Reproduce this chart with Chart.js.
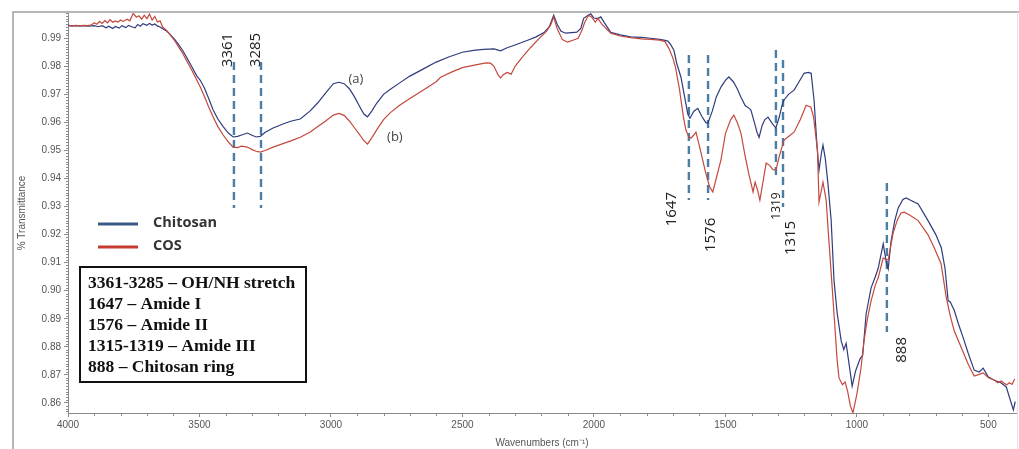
<!DOCTYPE html>
<html>
<head>
<meta charset="utf-8">
<script src="https://cdn.jsdelivr.net/npm/chart.js@4.4.1/dist/chart.umd.min.js"></script>
<style>
  html, body { margin: 0; padding: 0; background: #fff; }
  #wrap { position: relative; width: 1019px; height: 449px; }
</style>
</head>
<body>
<div id="wrap"><canvas id="c" width="1019" height="449"></canvas></div>
<script>
// ---------- DATA ----------
const chitosanWn = [4000,3980,3960,3940,3920,3900,3885,3870,3855,3845,3830,3820,3805,3795,3780,3770,3755,3745,3735,3725,3715,3700,3690,3680,3670,3660,3650,3640,3625,3610,3595,3580,3565,3550,3530,3510,3497,3480,3465,3448,3430,3410,3390,3372,3355,3340,3318,3300,3285,3269,3250,3220,3180,3150,3117,3080,3050,3020,2991,2970,2950,2930,2910,2890,2875,2861,2845,2825,2800,2774,2740,2700,2650,2600,2550,2500,2458,2420,2380,2355,2330,2300,2252,2220,2190,2170,2153,2140,2125,2107,2085,2065,2050,2039,2025,2012,2000,1985,1974,1960,1936,1900,1860,1820,1784,1750,1734,1719,1708,1696,1685,1669,1655,1643,1635,1620,1605,1590,1575,1567,1550,1535,1517,1500,1487,1470,1455,1441,1425,1410,1403,1390,1380,1372,1360,1350,1338,1325,1308,1295,1285,1277,1260,1239,1220,1201,1185,1174,1163,1152,1144,1135,1129,1120,1110,1098,1087,1075,1060,1050,1041,1030,1018,1005,988,978,965,946,930,919,900,888,881,870,856,843,825,813,790,767,729,700,679,665,653,645,630,615,595,577,554,535,520,500,475,451,432,420,405,398];
const chitosanT = [0.9946,0.9944,0.9945,0.9944,0.9943,0.9945,0.9941,0.9945,0.9937,0.9943,0.9935,0.9942,0.9936,0.9945,0.9938,0.9946,0.9940,0.9937,0.9949,0.9943,0.9952,0.9946,0.9953,0.9947,0.9951,0.9944,0.9940,0.9934,0.9926,0.9912,0.9897,0.9878,0.9858,0.9834,0.9800,0.9765,0.9750,0.9720,0.9685,0.9644,0.9612,0.9585,0.9562,0.9548,0.9550,0.9555,0.9562,0.9554,0.9548,0.9550,0.9565,0.9580,0.9595,0.9605,0.9612,0.9640,0.9670,0.9705,0.9738,0.9743,0.9738,0.9720,0.9690,0.9655,0.9630,0.9620,0.9640,0.9670,0.9700,0.9718,0.9740,0.9765,0.9790,0.9815,0.9834,0.9850,0.9857,0.9860,0.9862,0.9855,0.9866,0.9876,0.9893,0.9905,0.9920,0.9940,0.9982,0.9950,0.9925,0.9918,0.9920,0.9922,0.9935,0.9971,0.9980,0.9987,0.9972,0.9970,0.9976,0.9955,0.9921,0.9912,0.9905,0.9903,0.9900,0.9896,0.9893,0.9890,0.9877,0.9857,0.9810,0.9761,0.9690,0.9630,0.9615,0.9640,0.9650,0.9622,0.9600,0.9597,0.9640,0.9690,0.9726,0.9750,0.9762,0.9745,0.9720,0.9690,0.9660,0.9650,0.9644,0.9600,0.9565,0.9547,0.9590,0.9610,0.9619,0.9600,0.9580,0.9620,0.9660,0.9680,0.9700,0.9715,0.9745,0.9775,0.9778,0.9775,0.9680,0.9520,0.9430,0.9490,0.9519,0.9470,0.9380,0.9252,0.9036,0.8920,0.8822,0.8790,0.8812,0.8740,0.8660,0.8714,0.8757,0.8770,0.8917,0.9010,0.9050,0.9080,0.9167,0.9100,0.9078,0.9177,0.9250,0.9295,0.9325,0.9331,0.9320,0.9309,0.9249,0.9200,0.9153,0.9080,0.8964,0.8960,0.8930,0.8885,0.8830,0.8778,0.8717,0.8710,0.8724,0.8692,0.8680,0.8671,0.8657,0.8620,0.8575,0.8605];

const cosWn = [4000,3985,3970,3955,3940,3925,3910,3900,3890,3880,3870,3860,3850,3840,3830,3820,3810,3800,3790,3775,3765,3752,3740,3730,3720,3710,3700,3690,3680,3670,3660,3650,3640,3625,3610,3595,3580,3565,3550,3530,3510,3497,3480,3465,3448,3430,3410,3390,3372,3355,3340,3318,3300,3285,3269,3250,3220,3180,3150,3117,3080,3050,3020,2991,2970,2950,2930,2910,2890,2875,2861,2845,2825,2800,2774,2740,2700,2650,2600,2583,2540,2500,2450,2410,2393,2380,2365,2355,2345,2330,2315,2300,2270,2240,2203,2180,2165,2153,2140,2120,2100,2080,2060,2045,2035,2020,2008,1995,1985,1970,1936,1900,1860,1820,1784,1750,1730,1715,1700,1690,1675,1660,1650,1640,1631,1620,1612,1600,1585,1575,1560,1548,1535,1517,1500,1480,1468,1455,1441,1425,1412,1403,1395,1387,1378,1369,1355,1345,1330,1320,1308,1295,1277,1260,1239,1215,1193,1175,1165,1150,1144,1129,1117,1108,1087,1075,1068,1055,1045,1035,1025,1015,1000,985,973,960,946,930,919,900,888,881,862,845,832,820,800,767,730,706,680,660,645,630,600,577,554,540,520,500,490,475,465,451,440,430,420,410,400];
const cosT = [0.9945,0.9943,0.9946,0.9944,0.9946,0.9945,0.9948,0.9955,0.9950,0.9960,0.9953,0.9963,0.9955,0.9966,0.9957,0.9962,0.9958,0.9965,0.9960,0.9968,0.9962,0.9989,0.9975,0.9980,0.9968,0.9982,0.9970,0.9986,0.9965,0.9978,0.9958,0.9962,0.9940,0.9928,0.9910,0.9892,0.9870,0.9848,0.9822,0.9788,0.9750,0.9726,0.9690,0.9655,0.9619,0.9585,0.9555,0.9530,0.9512,0.9510,0.9515,0.9512,0.9503,0.9497,0.9494,0.9500,0.9512,0.9525,0.9535,0.9547,0.9565,0.9585,0.9605,0.9626,0.9632,0.9625,0.9605,0.9580,0.9555,0.9535,0.9523,0.9545,0.9575,0.9610,0.9635,0.9660,0.9685,0.9715,0.9745,0.9761,0.9780,0.9795,0.9805,0.9812,0.9811,0.9800,0.9770,0.9758,0.9770,0.9778,0.9772,0.9800,0.9835,0.9868,0.9904,0.9925,0.9946,0.9976,0.9935,0.9895,0.9886,0.9893,0.9900,0.9930,0.9957,0.9982,0.9975,0.9957,0.9971,0.9950,0.9918,0.9908,0.9902,0.9898,0.9896,0.9893,0.9888,0.9864,0.9830,0.9797,0.9720,0.9620,0.9572,0.9550,0.9544,0.9555,0.9565,0.9520,0.9460,0.9420,0.9370,0.9352,0.9400,0.9466,0.9560,0.9610,0.9626,0.9600,0.9562,0.9480,0.9420,0.9384,0.9352,0.9387,0.9360,0.9323,0.9400,0.9455,0.9445,0.9432,0.9430,0.9480,0.9537,0.9550,0.9565,0.9610,0.9661,0.9654,0.9620,0.9501,0.9316,0.9387,0.9323,0.9200,0.8917,0.8750,0.8689,0.8665,0.8675,0.8640,0.8590,0.8564,0.8632,0.8720,0.8821,0.8900,0.8964,0.9020,0.9046,0.9117,0.9110,0.9110,0.9207,0.9255,0.9277,0.9280,0.9270,0.9250,0.9200,0.9153,0.9096,0.8975,0.8910,0.8857,0.8790,0.8739,0.8696,0.8700,0.8707,0.8690,0.8686,0.8680,0.8672,0.8678,0.8670,0.8665,0.8672,0.8666,0.8685];

const xTickValues = [4000,3500,3000,2500,2000,1500,1000,500];
const yTickValues = [0.86,0.87,0.88,0.89,0.90,0.91,0.92,0.93,0.94,0.95,0.96,0.97,0.98,0.99];

// dashed band markers (wavenumber, top %T, bottom %T) and their labels
const markerWn     = [3369, 3266, 1639, 1566, 1308, 1281, 886];
const markerTop    = [0.9815, 0.9815, 0.9840, 0.9840, 0.9858, 0.9822, 0.9384];
const markerBottom = [0.9295, 0.9295, 0.9323, 0.9323, 0.9405, 0.9298, 0.8853];
const markerLabels = ['3361', '3285', '1647', '1576', '1319', '1315', '888'];
const markerLabelWn = [3392, 3285, 1703, 1555, 1304, 1251, 829];
const markerLabelT  = [0.9858, 0.9858, 0.9291, 0.9199, 0.9302, 0.9188, 0.8789];

const curveTags = ['(a)', '(b)'];
const curveTagWn = [2905, 2757];
const curveTagT  = [0.9755, 0.9548];

const seriesNames = ['Chitosan', 'COS'];
const assignmentLines = [
  '3361-3285 \u2013 OH/NH stretch',
  '1647 \u2013 Amide I',
  '1576 \u2013 Amide II',
  '1315-1319 \u2013 Amide III',
  '888 \u2013 Chitosan ring'
];

// ---------- STYLE ----------
const BLUE = '#2f3c7e';
const RED = '#c4483c';
const LEG_BLUE = '#3a5a86';
const LEG_RED = '#c63a30';
const DASH = '#4a7ea6';
const AXIS = '#8a8a8a';
const TICKTXT = '#555';

const toPts = (xs, ys) => xs.map((x, i) => ({ x: x, y: ys[i] }));

const datasets = [
  { label: seriesNames[1], data: toPts(cosWn, cosT), borderColor: RED, borderWidth: 1.2, pointRadius: 0, tension: 0, fill: false },
  { label: seriesNames[0], data: toPts(chitosanWn, chitosanT), borderColor: BLUE, borderWidth: 1.2, pointRadius: 0, tension: 0, fill: false }
];
markerWn.forEach((w, i) => {
  datasets.push({
    label: 'm' + i,
    data: [{ x: w, y: markerTop[i] }, { x: w, y: markerBottom[i] }],
    borderColor: DASH, borderWidth: 2.4, borderDash: [8, 5],
    pointRadius: 0, fill: false, tension: 0
  });
});

const decorPlugin = {
  id: 'decor',
  beforeDraw(chart) {
    const ctx = chart.ctx;
    ctx.save();
    ctx.fillStyle = '#fff';
    ctx.fillRect(0, 0, chart.width, chart.height);
    ctx.strokeStyle = '#a0a0a0';
    ctx.lineWidth = 1.5;
    ctx.beginPath();
    ctx.moveTo(13, 449); ctx.lineTo(13, 12); ctx.lineTo(1019, 12);
    ctx.stroke();
    ctx.strokeStyle = '#e2e2e2';
    ctx.lineWidth = 1;
    ctx.beginPath();
    ctx.moveTo(1017.5, 12); ctx.lineTo(1017.5, 449);
    ctx.stroke();
    ctx.restore();
  },
  afterDraw(chart) {
    const ctx = chart.ctx;
    const xs = chart.scales.x, ys = chart.scales.y;
    const a = chart.chartArea;
    ctx.save();
    // minor ticks
    ctx.strokeStyle = AXIS;
    ctx.lineWidth = 1;
    ctx.beginPath();
    for (let v = 500; v <= 4000; v += 100) {
      if (v % 500 === 0 || v < xs.min) continue;
      const px = Math.round(xs.getPixelForValue(v)) + 0.5;
      ctx.moveTo(px, a.bottom); ctx.lineTo(px, a.bottom + 3);
    }
    for (let i = 857; i <= 999; i++) {
      if (i % 10 === 0) continue;
      const py = Math.round(ys.getPixelForValue(i / 1000)) + 0.5;
      ctx.moveTo(a.left - 2, py); ctx.lineTo(a.left, py);
    }
    ctx.stroke();

    // marker labels (rotated)
    ctx.fillStyle = '#222';
    ctx.textAlign = 'center';
    ctx.textBaseline = 'middle';
    markerLabels.forEach((t, i) => {
      const px = xs.getPixelForValue(markerLabelWn[i]);
      const py = ys.getPixelForValue(markerLabelT[i]);
      ctx.save();
      ctx.translate(px, py);
      ctx.rotate(-Math.PI / 2);
      ctx.font = (t === '1319' ? '12px' : '15px') + ' "Open Sans", sans-serif';
      ctx.fillText(t, 0, 0);
      ctx.restore();
    });

    // curve tags
    ctx.font = '13px "Open Sans", sans-serif';
    ctx.fillStyle = '#444';
    curveTags.forEach((t, i) => {
      ctx.fillText(t, xs.getPixelForValue(curveTagWn[i]), ys.getPixelForValue(curveTagT[i]));
    });

    // legend
    const lx = a.left + 30, ly = a.top + 211;
    ctx.lineWidth = 3;
    ctx.strokeStyle = LEG_BLUE;
    ctx.beginPath(); ctx.moveTo(lx, ly); ctx.lineTo(lx + 40, ly); ctx.stroke();
    ctx.strokeStyle = LEG_RED;
    ctx.beginPath(); ctx.moveTo(lx, ly + 23); ctx.lineTo(lx + 40, ly + 23); ctx.stroke();
    ctx.fillStyle = '#333';
    ctx.textAlign = 'left';
    ctx.font = 'bold 14.5px "Open Sans", sans-serif';
    ctx.fillText(seriesNames[0], lx + 55, ly - 1);
    ctx.fillText(seriesNames[1], lx + 55, ly + 22);

    // assignment box
    const bx = a.left + 12, by = a.top + 254, bw = 226, bh = 115;
    ctx.lineWidth = 2;
    ctx.strokeStyle = '#111';
    ctx.strokeRect(bx, by, bw, bh);
    ctx.fillStyle = '#111';
    ctx.font = 'bold 17.5px "Liberation Serif", "Times New Roman", serif';
    assignmentLines.forEach((t, i) => {
      ctx.fillText(t, bx + 8, by + 16 + i * 21.2);
    });
    ctx.restore();
  }
};

new Chart(document.getElementById('c'), {
  type: 'line',
  data: { datasets: datasets },
  options: {
    responsive: false,
    animation: false,
    layout: { padding: { left: 0, top: 13, right: 3, bottom: 0 } },
    plugins: { legend: { display: false }, tooltip: { enabled: false } },
    scales: {
      x: {
        type: 'linear',
        reverse: true,
        min: 395,
        max: 4000,
        afterBuildTicks: (s) => { s.ticks = xTickValues.map(v => ({ value: v })); },
        afterFit: (s) => { s.height = 36; },
        ticks: {
          color: TICKTXT,
          font: { family: '"Liberation Sans", Arial, sans-serif', size: 10 },
          padding: 2,
          maxRotation: 0,
          callback: (v) => String(v)
        },
        grid: { display: true, drawOnChartArea: false, drawTicks: true, tickLength: 4, color: AXIS },
        border: { display: true, color: AXIS },
        title: {
          display: true,
          text: 'Wavenumbers (cm\u207B\u00B9)',
          color: TICKTXT,
          font: { family: '"Liberation Sans", Arial, sans-serif', size: 10 },
          padding: { top: 2, bottom: 0 }
        }
      },
      y: {
        type: 'linear',
        min: 0.8564,
        max: 0.999,
        afterBuildTicks: (s) => { s.ticks = yTickValues.map(v => ({ value: v })); },
        afterFit: (s) => { s.width = 68; },
        ticks: {
          color: TICKTXT,
          font: { family: '"Liberation Sans", Arial, sans-serif', size: 10 },
          padding: 3,
          callback: (v) => Number(v).toFixed(2)
        },
        grid: { display: true, drawOnChartArea: false, drawTicks: true, tickLength: 4, color: AXIS },
        border: { display: true, color: AXIS },
        title: {
          display: true,
          text: '% Transmittance',
          color: TICKTXT,
          font: { family: '"Liberation Sans", Arial, sans-serif', size: 10 },
          padding: { top: 16, bottom: 0 }
        }
      }
    }
  },
  plugins: [decorPlugin]
});
</script>
</body>
</html>
